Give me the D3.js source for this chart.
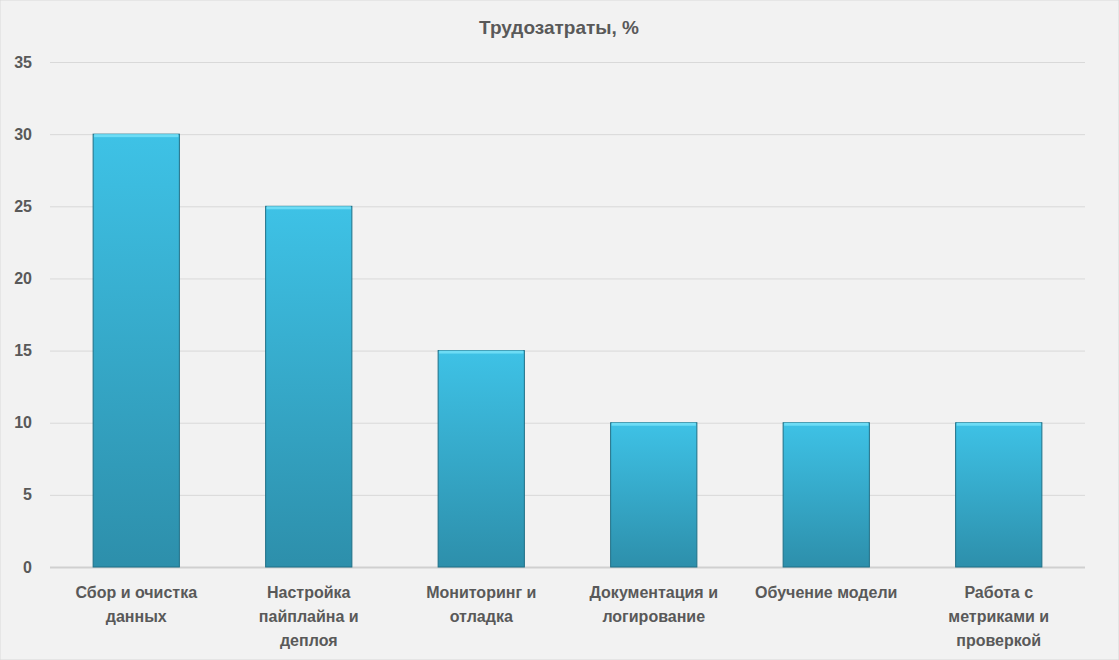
<!DOCTYPE html>
<html>
<head>
<meta charset="utf-8">
<script src="https://cdn.jsdelivr.net/npm/d3@7"></script>
<style>
  body { margin: 0; background: #f2f2f2; }
  svg { font-family: "Liberation Sans", Arial, sans-serif; }
</style>
</head>
<body>
<svg id="chart" width="1119" height="660"></svg>
<script>
// data
var categories = [
    ["Сбор и очистка", "данных"],
    ["Настройка", "пайплайна и", "деплоя"],
    ["Мониторинг и", "отладка"],
    ["Документация и", "логирование"],
    ["Обучение модели"],
    ["Работа с", "метриками и", "проверкой"]
];
var values = [30, 25, 15, 10, 10, 10];
var yTicks = [0, 5, 10, 15, 20, 25, 30, 35];
var title = "Трудозатраты, %";

var svg = d3.select("#chart");
var margin = { left: 50, right: 1085, top: 62, bottom: 567 };

svg.append("rect").attr("width", 1119).attr("height", 660).attr("fill", "#f2f2f2")
    .attr("stroke", "#d9d9d9");

var x = d3.scaleBand().domain(d3.range(categories.length))
    .range([margin.left, margin.right]).paddingInner(0.5).paddingOuter(0.25);
var y = d3.scaleLinear().domain([0, 35]).range([margin.bottom, margin.top]);

// gradient for bars
var defs = svg.append("defs");
var grad = defs.append("linearGradient").attr("id", "barGrad")
    .attr("x1", 0).attr("y1", 0).attr("x2", 0).attr("y2", 1);
grad.append("stop").attr("offset", "0%").attr("stop-color", "#3ec2e6");
grad.append("stop").attr("offset", "100%").attr("stop-color", "#2d8fab");

// gridlines
svg.append("g").selectAll("line").data(yTicks).join("line")
    .attr("x1", margin.left).attr("x2", margin.right)
    .attr("y1", d => y(d) + 0.5).attr("y2", d => y(d) + 0.5)
    .attr("stroke", d => d === 0 ? "#d0d0d0" : "#d9d9d9")
    .attr("stroke-width", d => d === 0 ? 2 : 1);

// y axis
var yAxis = svg.append("g").attr("transform", "translate(35,0)")
    .call(d3.axisLeft(y).tickValues(yTicks).tickSize(0));
yAxis.select(".domain").remove();
yAxis.selectAll("text").attr("fill", "#595959").attr("font-size", 16)
    .attr("font-weight", "bold").attr("text-anchor", "end");

// bars
var bars = svg.append("g").selectAll("g").data(values).join("g");
bars.append("rect")
    .attr("x", (d, i) => x(i)).attr("width", x.bandwidth())
    .attr("y", d => y(d)).attr("height", d => y(0) - y(d))
    .attr("fill", "url(#barGrad)").attr("stroke", "#1f6f86").attr("stroke-width", 1);
bars.append("rect")
    .attr("x", (d, i) => x(i) + 1).attr("width", x.bandwidth() - 2)
    .attr("y", d => y(d)).attr("height", 3)
    .attr("fill", "#6ddcf5");

// x labels
var labels = svg.append("g").selectAll("text").data(categories).join("text")
    .attr("x", (d, i) => x(i) + x.bandwidth() / 2)
    .attr("y", 598)
    .attr("text-anchor", "middle").attr("fill", "#595959")
    .attr("font-size", 16).attr("font-weight", "bold");
labels.selectAll("tspan").data(d => d).join("tspan")
    .attr("x", function() { return this.parentNode.getAttribute("x"); })
    .attr("dy", (d, i) => i === 0 ? 0 : 24)
    .text(d => d);

// title
svg.append("text").attr("x", 559).attr("y", 34).attr("text-anchor", "middle")
    .attr("fill", "#595959").attr("font-size", 19).attr("font-weight", "bold")
    .text(title);
</script>
</body>
</html>
